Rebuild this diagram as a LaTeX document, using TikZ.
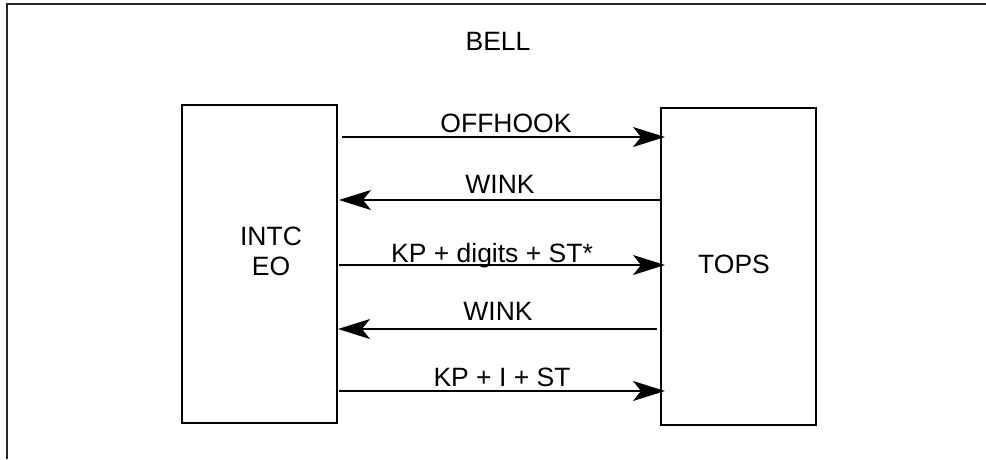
\documentclass[tikz,border=0pt]{standalone}
\usepackage{fontspec}
\setmainfont{Liberation Sans}
\usetikzlibrary{arrows.meta}
\begin{document}
\begin{tikzpicture}[x=1pt,y=-1pt,
  box/.style={draw, line width=1.6pt, inner sep=0pt, outer sep=0pt, anchor=north west, minimum width=155pt},
  lbl/.style={font=\fontsize{26.5}{30}\selectfont, anchor=base, inner sep=0pt},
  msg/.style={line width=1.6pt, -{Stealth[length=32pt,width=20pt,inset=8pt]}},
  framel/.style={line width=1.2pt, draw=black!85}]
\useasboundingbox (0,0) rectangle (986,459);
% frame (top and left edges only)
\coordinate (fTL) at (7,4);
\coordinate (fTR) at (986,4);
\coordinate (fBL) at (7,459);
\draw[framel] (fTR) -- (fTL) -- (fBL);
% boxes
\node[box, minimum height=318pt] (L) at (182,105) {};
\node[box, minimum height=317pt] (R) at (661,108) {};
% titles
\node[lbl] (bell) at (498,50) {BELL};
\node[lbl] (intc) at (271,245) {INTC};
\node[lbl] (eo) at (271,275) {EO};
\node[lbl] (tops) at (734,273) {TOPS};
% messages
\draw[msg, shorten <=5pt, shorten >=-4pt] (L.east |- 0,137) -- (R.west |- 0,137);
\node[lbl] (m1) at (506,132) {OFFHOOK};
\draw[msg, shorten >=2pt] (R.west |- 0,200) -- (L.east |- 0,200);
\node[lbl] (m2) at (500,193) {WINK};
\draw[msg, shorten <=2pt, shorten >=-4pt] (L.east |- 0,265) -- (R.west |- 0,265);
\node[lbl] (m3) at (492,262) {KP + digits + ST*};
\draw[msg, shorten <=4pt, shorten >=1pt] (R.west |- 0,329) -- (L.east |- 0,329);
\node[lbl] (m4) at (498,320) {WINK};
\draw[msg, shorten <=2pt, shorten >=-4pt] (L.east |- 0,391) -- (R.west |- 0,391);
\node[lbl] (m5) at (502,386) {KP + I + ST};
\end{tikzpicture}
\end{document}
